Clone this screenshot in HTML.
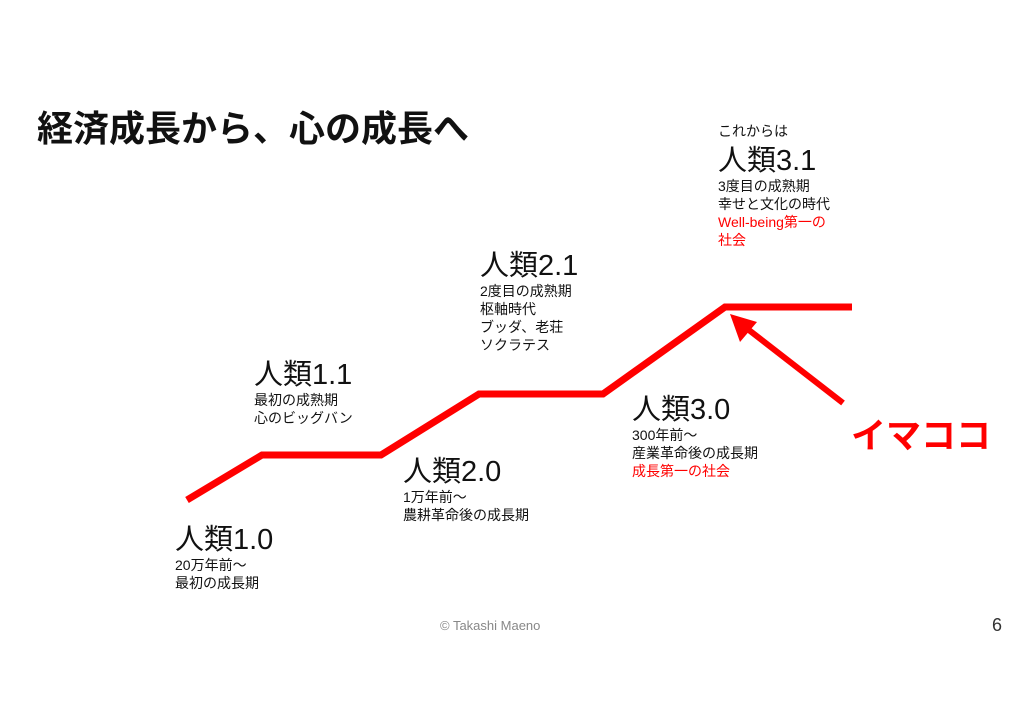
<!DOCTYPE html>
<html><head><meta charset="utf-8"><style>
body{margin:0;width:1024px;height:721px;background:#fff;position:relative;overflow:hidden;font-family:"Liberation Sans","Noto Sans CJK JP",sans-serif;color:#111}
.a{position:absolute;white-space:nowrap}
.h{font-size:29px;line-height:32px}
.s{font-size:14px;line-height:18px}
.r{color:#f00}
</style></head><body>
<svg class="a" style="left:0;top:0" width="1024" height="721">
<polyline points="187,500 262,455 381,455 479,394 603,394 725,307 852,307" fill="none" stroke="#f00" stroke-width="7"/>
<line x1="843" y1="403" x2="745" y2="327" stroke="#f00" stroke-width="6"/>
<polygon points="730,314 757,322 740,342" fill="#f00"/>
</svg>
<div class="a" style="left:37px;top:108px;font-size:36px;font-weight:bold;line-height:42px">経済成長から、心の成長へ</div>
<div class="a" style="left:175px;top:524px"><div class="h">人類1.0</div><div class="s">20万年前〜<br>最初の成長期</div></div>
<div class="a" style="left:254px;top:359px"><div class="h">人類1.1</div><div class="s">最初の成熟期<br>心のビッグバン</div></div>
<div class="a" style="left:403px;top:456px"><div class="h">人類2.0</div><div class="s">1万年前〜<br>農耕革命後の成長期</div></div>
<div class="a" style="left:480px;top:250px"><div class="h">人類2.1</div><div class="s">2度目の成熟期<br>枢軸時代<br>ブッダ、老荘<br>ソクラテス</div></div>
<div class="a" style="left:632px;top:394px"><div class="h">人類3.0</div><div class="s">300年前〜<br>産業革命後の成長期<br><span class="r">成長第一の社会</span></div></div>
<div class="a" style="left:718px;top:122px"><div class="s">これからは</div><div class="h" style="margin-top:5px">人類3.1</div><div class="s">3度目の成熟期<br>幸せと文化の時代<br><span class="r">Well-being第一の<br>社会</span></div></div>
<div class="a r" style="left:851px;top:416px;font-size:35px;font-weight:bold;line-height:42px">イマココ</div>
<div class="a" style="left:440px;top:618px;font-size:13px;color:#888">© Takashi Maeno</div>
<div class="a" style="left:992px;top:615px;font-size:18px;color:#333">6</div>
</body></html>
